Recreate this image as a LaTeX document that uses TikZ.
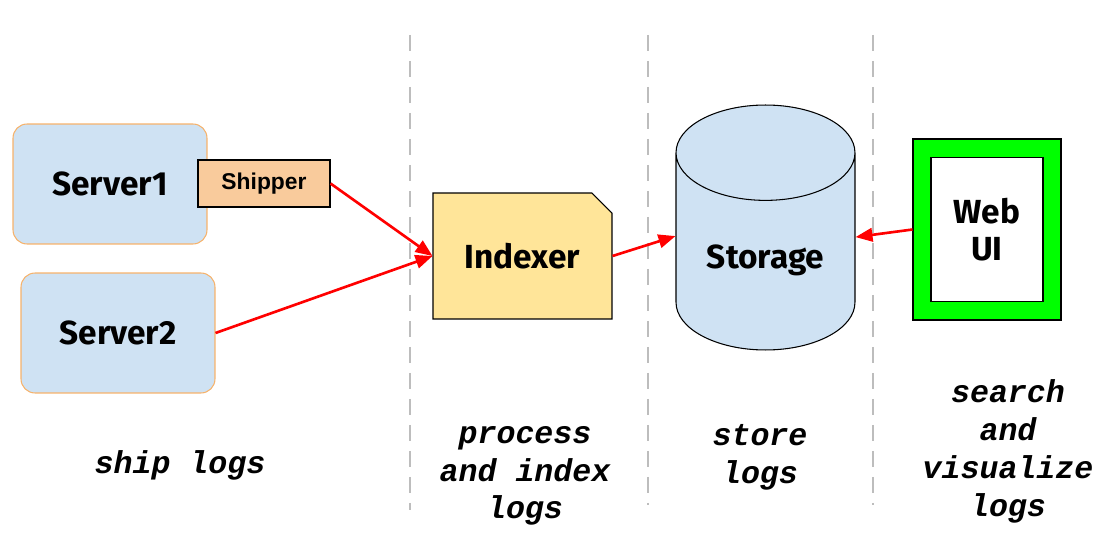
\documentclass[tikz,border=0pt]{standalone}
\usepackage{fontspec}
\newfontfamily\boxfont{Fira Sans}
\newfontfamily\tagfont{Liberation Sans}
\newfontfamily\phasefont{Liberation Mono}
\usetikzlibrary{arrows.meta, shapes.geometric, shapes.misc, positioning}
\definecolor{srvfill}{HTML}{CFE2F3}
\definecolor{srvedge}{HTML}{F6B26B}
\definecolor{shipfill}{HTML}{F9CB9C}
\definecolor{idxfill}{HTML}{FFE599}
\definecolor{uigreen}{HTML}{00FF00}
\definecolor{divgray}{HTML}{BDBDBD}

\begin{document}
\begin{tikzpicture}[x=0.02cm,y=-0.02cm,>={Triangle[length=0.34cm,width=0.27cm]},
	server/.style={rectangle,rounded corners=0.28cm,draw=srvedge,fill=srvfill,line width=0.6pt,minimum width=3.88cm,minimum height=2.4cm,font=\fontsize{19}{22}\selectfont\boxfont\bfseries},
	shipper/.style={rectangle,draw=black,fill=shipfill,line width=0.6pt,minimum width=2.64cm,minimum height=0.94cm,font=\fontsize{13}{15}\selectfont\tagfont\bfseries},
	indexer/.style={chamfered rectangle,chamfered rectangle corners=north east,chamfered rectangle xsep=0.2cm,chamfered rectangle ysep=0.2cm,draw=black,fill=idxfill,line width=0.6pt,minimum width=3.58cm,minimum height=2.52cm,font=\fontsize{19}{22}\selectfont\boxfont\bfseries},
	storage/.style={cylinder,shape border rotate=90,aspect=0.74,anchor=shape center,draw=black,fill=srvfill,line width=0.6pt,minimum width=3.58cm,minimum height=4.9cm,font=\fontsize{19}{22}\selectfont\boxfont\bfseries},
	webframe/.style={rectangle,draw=black,fill=uigreen,line width=0.6pt,minimum width=2.96cm,minimum height=3.62cm},
	webpane/.style={rectangle,draw=black,fill=white,line width=0.6pt,minimum width=2.24cm,minimum height=2.88cm,align=center,font=\fontsize{19}{21}\selectfont\boxfont\bfseries},
	phase/.style={align=center,font=\fontsize{18}{21.5}\selectfont\phasefont\bfseries\itshape},
	divider/.style={draw=divgray,line width=1.1pt,dash pattern=on 0.32cm off 0.2cm},
	flow/.style={->,draw=red,line width=1.5pt}]

	\useasboundingbox (0,0) rectangle (1117,544);

	\foreach \x/\ylo/\yhi in {410/35/510, 648/35/505, 873/35/505}
		\draw[divider] (\x,\ylo) -- (\x,\yhi);

	\node[server] (S1) at (110,184)		{Server1};
	\node[shipper] (Sh) at (264,183.5)	{Shipper};
	\node[server] (S2) at (118,333)		{Server2};
	\node[indexer] (I) at (522.5,256)	{Indexer};
	\node[storage] (St) at (765.5,227.5)	{Storage};
	\node[webframe] (W) at (987,229.5)	{};
	\node[webpane] (P) at (W)			{Web\\UI};

	\node[phase] (L1) at (180,465)		{ship logs};
	\node[phase] (L2) at (525,476)		{process\\and index\\logs};
	\node[phase] (L3) at (760,457)		{store\\logs};
	\node[phase] (L4) at (1008,451.5)	{search\\and\\visualize\\logs};

	\path (Sh.east) edge[flow]	(I.west);
	\path (S2.east) edge[flow]	(I.west);
	\path (I.east) edge[flow]	([yshift=0.48cm]St.west);
	\path (W.west) edge[flow]	([yshift=0.46cm]St.east);
\end{tikzpicture}
\end{document}
